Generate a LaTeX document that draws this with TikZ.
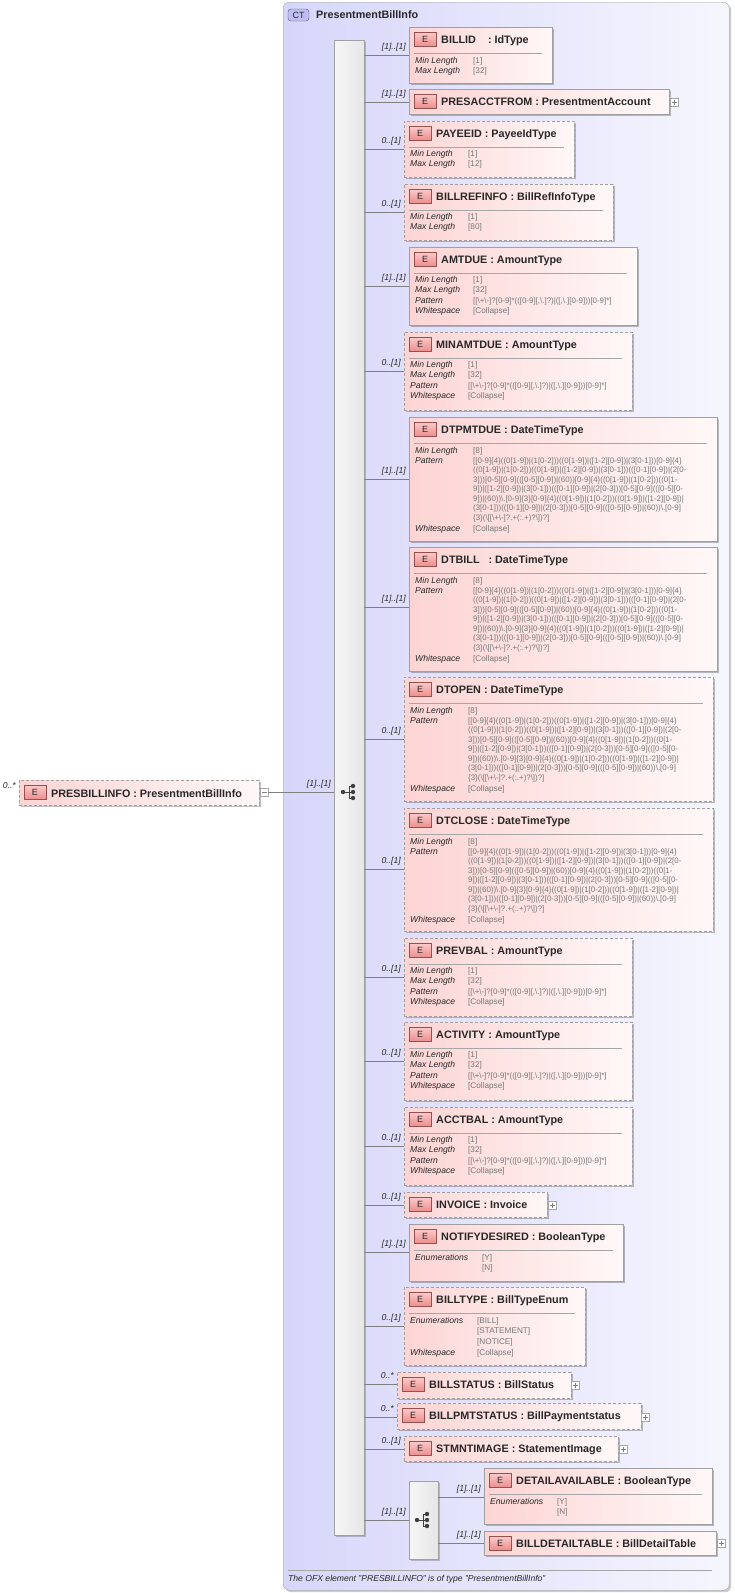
\documentclass[tikz,border=0pt]{standalone}
\usepackage{fontspec}
\setmainfont{Liberation Sans}
\usetikzlibrary{shadows}
\definecolor{ctA}{RGB}{214,214,250}
\definecolor{ctB}{RGB}{246,246,254}
\definecolor{elA}{RGB}{253,212,212}
\definecolor{elB}{RGB}{255,248,248}
\definecolor{bdr}{RGB}{160,160,160}
\definecolor{valc}{RGB}{120,120,120}
\definecolor{txt}{RGB}{40,40,40}
\newcommand\bs{\textbackslash}
\tikzset{
 elbox/.style={draw=bdr,left color=elA,right color=elB,inner sep=0pt,outer sep=0pt,rectangle,
   drop shadow={shadow xshift=2pt,shadow yshift=-2pt,opacity=.25,fill=black}},
 solidb/.style={solid},
 dashb/.style={dash pattern=on 3pt off 2pt},
 badge/.style={draw={rgb,255:red,150;green,80;blue,80},top color={rgb,255:red,252;green,200;blue,200},bottom color={rgb,255:red,236;green,140;blue,140},
   minimum width=22pt,minimum height=14pt,inner sep=0pt,font=\fontsize{9}{9}\selectfont,text=txt},
 ttl/.style={font=\fontsize{10.8}{12}\selectfont\bfseries,text=txt,inner sep=0pt,anchor=base west},
 conn/.style={draw=gray,line width=.6pt},
 card/.style={font=\fontsize{8.6}{9}\selectfont\itshape,text=txt,inner sep=0pt,anchor=base east},
 plab/.style={font=\fontsize{8.6}{9}\selectfont\itshape,text=txt,inner sep=0pt,anchor=base west},
 pval/.style={font=\fontsize{8.2}{9}\selectfont,text=valc,inner sep=0pt,anchor=base west},
 pat/.style={font=\fontsize{7.9}{9}\selectfont,text=valc,inner sep=0pt,anchor=base west},
 sepl/.style={draw=gray!70,line width=.6pt},
 pbox/.style={draw=gray!70,fill=white,minimum size=8pt,inner sep=0pt},
 bar/.style={draw=bdr,left color=white!93!gray,right color=white!80!gray,inner sep=0pt,outer sep=0pt,
   drop shadow={shadow xshift=2pt,shadow yshift=-2pt,opacity=.2,fill=black}},
}
\def\src{seq}
% id, l, t, r, b, style, title, card, liney
\newcommand\el[9]{%
 \node[elbox,#6,minimum width={#4-#2},minimum height={#5-#3},anchor=north west] (#1) at (#2,#3) {};
 \node[badge] at (#2+16,#3+12.5) {E};
 \node[ttl] at (#2+32,#3+16.5) {#7};
 \coordinate (#1-in) at (#2,#9);
 \draw[conn] (\src.east |- #1-in) -- (#1-in);
 \node[card] at (#2-3,#9-6) {#8};
}
\newcommand\sepr[3]{\draw[sepl] (#1+5,#2+26) -- (#3-10,#2+26);}
\newcommand\pr[4]{\node[plab] at (#1+6,#2) {#3}; \node[pval] at (#1+64,#2) {#4};}
\newcommand\pe[4]{\node[plab] at (#1+6,#2) {#3}; \node[pval] at (#1+73,#2) {#4};}
\newcommand\plus[3]{\node[pbox] (#1) at (#2,#3) {}; \draw[gray] (#2-2.5,#3)--(#2+2.5,#3) (#2,#3-2.5)--(#2,#3+2.5);}
\newcommand\amt[2]{% l, t
 \pr{#1}{#2+35}{Min Length}{[1]}
 \pr{#1}{#2+45.5}{Max Length}{[32]}
 \node[plab] at (#1+6,#2+56) {Pattern};
 \node[pat] at (#1+64,#2+56) {[[\bs+\bs-]?[0-9]*(([0-9][,\bs.]?)|([,\bs.][0-9]))[0-9]*]};
 \pr{#1}{#2+66.5}{Whitespace}{[Collapse]}
}
\newcommand\dt[2]{% l, t
 \pr{#1}{#2+36}{Min Length}{[8]}
 \node[plab] at (#1+6,#2+46) {Pattern};
 \node[pat] at (#1+64,#2+46) {[[0-9]\{4\}((0[1-9])|(1[0-2]))((0[1-9])|([1-2][0-9])|(3[0-1]))[0-9]\{4\}};
 \node[pat] at (#1+64,#2+55.5) {((0[1-9])|(1[0-2]))((0[1-9])|([1-2][0-9])|(3[0-1]))(([0-1][0-9])|(2[0-};
 \node[pat] at (#1+64,#2+65) {3]))[0-5][0-9](([0-5][0-9])|(60))[0-9]\{4\}((0[1-9])|(1[0-2]))((0[1-};
 \node[pat] at (#1+64,#2+74.5) {9])|([1-2][0-9])|(3[0-1]))(([0-1][0-9])|(2[0-3]))[0-5][0-9](([0-5][0-};
 \node[pat] at (#1+64,#2+84) {9])|(60))\bs.[0-9]\{3\}[0-9]\{4\}((0[1-9])|(1[0-2]))((0[1-9])|([1-2][0-9])|};
 \node[pat] at (#1+64,#2+93.5) {(3[0-1]))(([0-1][0-9])|(2[0-3]))[0-5][0-9](([0-5][0-9])|(60))\bs.[0-9]};
 \node[pat] at (#1+64,#2+103) {\{3\}(\bs[[\bs+\bs-]?.+(:.+)?\bs])?]};
 \pr{#1}{#2+114}{Whitespace}{[Collapse]}
}
\newcommand\icon[2]{% center
 \draw[black!75,line width=.8pt] (#1-6,#2) -- (#1,#2) (#1,#2-6) -- (#1,#2+6)
   (#1,#2-6) -- (#1+4,#2-6) (#1,#2) -- (#1+4,#2) (#1,#2+6) -- (#1+4,#2+6);
 \fill[black!75] (#1-6,#2) circle (2.2pt) (#1+4,#2-6) circle (2.2pt) (#1+4,#2) circle (2.2pt) (#1+4,#2+6) circle (2.2pt);
}
\begin{document}
\begin{tikzpicture}[x=1pt,y=-1pt]
\useasboundingbox (0,0) rectangle (734,1593);
% complex type
\node[draw=bdr,rounded corners=6pt,left color=ctA,right color=ctB,minimum width=446pt,minimum height=1588pt,anchor=north west,inner sep=0pt,
  drop shadow={shadow xshift=2pt,shadow yshift=-2pt,opacity=.2,fill=black}] (ct) at (283,2) {};
\node[draw={rgb,255:red,80;green,80;blue,140},fill={rgb,255:red,190;green,190;blue,240},rounded corners=3pt,minimum width=21pt,minimum height=12pt,inner sep=0pt,
  font=\fontsize{9}{9}\selectfont,text=txt] (ctb) at (298.5,15) {CT};
\node[ttl] (ctt) at (316,18) {PresentmentBillInfo};
% sequence bar
\node[bar,minimum width=30pt,minimum height=1495pt,anchor=north west] (seq) at (334,40) {};
\icon{349}{792}
% left element
\node[elbox,dashb,minimum width=240pt,minimum height=25pt,anchor=north west] (pbi) at (19,780) {};
\node[badge] at (35,792.5) {E};
\node[ttl] at (51,797) {PRESBILLINFO : PresentmentBillInfo};
\node[card] at (16,788) {0..*};
\node[pbox] (minus) at (264,792) {};
\draw[gray] (261.5,792) -- (266.5,792);
\draw[conn] (minus.east) -- (seq.west |- minus.east);
\node[card] at (331,786) {[1]..[1]};
% elements
\el{billid}{409}{27}{552}{83}{solidb}{BILLID\ \ \ \ : IdType}{[1]..[1]}{55}
\sepr{409}{27}{552}\pr{409}{63}{Min Length}{[1]}\pr{409}{73.5}{Max Length}{[32]}
\el{presacct}{409}{89}{669}{114}{solidb}{PRESACCTFROM : PresentmentAccount}{[1]..[1]}{102}
\plus{p1}{674}{102}
\el{payeeid}{404}{121}{574}{177}{dashb}{PAYEEID : PayeeIdType}{0..[1]}{149}
\sepr{404}{121}{574}\pr{404}{156}{Min Length}{[1]}\pr{404}{166.5}{Max Length}{[12]}
\el{billref}{404}{184}{613}{240}{dashb}{BILLREFINFO : BillRefInfoType}{0..[1]}{212}
\sepr{404}{184}{613}\pr{404}{219}{Min Length}{[1]}\pr{404}{229.5}{Max Length}{[80]}
\el{amtdue}{409}{247}{637}{325}{solidb}{AMTDUE : AmountType}{[1]..[1]}{286}
\sepr{409}{247}{637}\amt{409}{247}
\el{minamt}{404}{332}{632}{410}{dashb}{MINAMTDUE : AmountType}{0..[1]}{371}
\sepr{404}{332}{632}\amt{404}{332}
\el{dtpmt}{409}{417}{717}{541}{solidb}{DTPMTDUE : DateTimeType}{[1]..[1]}{479}
\sepr{409}{417}{717}\dt{409}{417}
\el{dtbill}{409}{547}{717}{671}{solidb}{DTBILL\ \ \ : DateTimeType}{[1]..[1]}{607}
\sepr{409}{547}{717}\dt{409}{547}
\el{dtopen}{404}{677}{713}{801}{dashb}{DTOPEN : DateTimeType}{0..[1]}{739}
\sepr{404}{677}{713}\dt{404}{677}
\el{dtclose}{404}{808}{713}{931}{dashb}{DTCLOSE : DateTimeType}{0..[1]}{869}
\sepr{404}{808}{713}\dt{404}{808}
\el{prevbal}{404}{938}{632}{1016}{dashb}{PREVBAL : AmountType}{0..[1]}{977}
\sepr{404}{938}{632}\amt{404}{938}
\el{activity}{404}{1022}{632}{1100}{dashb}{ACTIVITY : AmountType}{0..[1]}{1061}
\sepr{404}{1022}{632}\amt{404}{1022}
\el{acctbal}{404}{1107}{632}{1185}{dashb}{ACCTBAL : AmountType}{0..[1]}{1146}
\sepr{404}{1107}{632}\amt{404}{1107}
\el{invoice}{404}{1192}{547}{1217}{dashb}{INVOICE : Invoice}{0..[1]}{1205}
\plus{p2}{552}{1205}
\el{notify}{409}{1224}{623}{1281}{solidb}{NOTIFYDESIRED : BooleanType}{[1]..[1]}{1252}
\sepr{409}{1224}{623}\pe{409}{1260}{Enumerations}{[Y]}\node[pval] at (482,1270.5) {[N]};
\el{billtype}{404}{1287}{585}{1365}{dashb}{BILLTYPE : BillTypeEnum}{0..[1]}{1326}
\sepr{404}{1287}{585}\pe{404}{1323}{Enumerations}{[BILL]}
\node[pval] at (477,1333.5) {[STATEMENT]};\node[pval] at (477,1344) {[NOTICE]};
\pe{404}{1355}{Whitespace}{[Collapse]}
\el{billstatus}{397}{1372}{571}{1398}{dashb}{BILLSTATUS : BillStatus}{0..*}{1384}
\plus{p3}{575}{1385}
\el{billpmt}{397}{1403}{641}{1429}{dashb}{BILLPMTSTATUS : BillPaymentstatus}{0..*}{1417}
\plus{p4}{645}{1417}
\el{stmnt}{404}{1436}{618}{1461}{dashb}{STMNTIMAGE : StatementImage}{0..[1]}{1449}
\plus{p5}{623}{1449}
% choice
\node[bar,minimum width=29pt,minimum height=78pt,anchor=north west] (choice) at (409,1481) {};
\coordinate (choice-in) at (409,1520);
\draw[conn] (seq.east |- choice-in) -- (choice-in);
\node[card] at (406,1514) {[1]..[1]};
\icon{423}{1520}
\def\src{choice}
\el{detail}{484}{1468}{712}{1524}{solidb}{DETAILAVAILABLE : BooleanType}{[1]..[1]}{1497}
\sepr{484}{1468}{712}\pe{484}{1504}{Enumerations}{[Y]}\node[pval] at (557,1514.5) {[N]};
\el{billdetail}{484}{1531}{716}{1555}{solidb}{BILLDETAILTABLE : BillDetailTable}{[1]..[1]}{1543}
\plus{p6}{721}{1543}
% footer
\draw[sepl] (288,1570) -- (712,1570);
\node[plab] (foot) at (288,1581) {The OFX element "PRESBILLINFO" is of type "PresentmentBillInfo"};
\end{tikzpicture}
\end{document}
